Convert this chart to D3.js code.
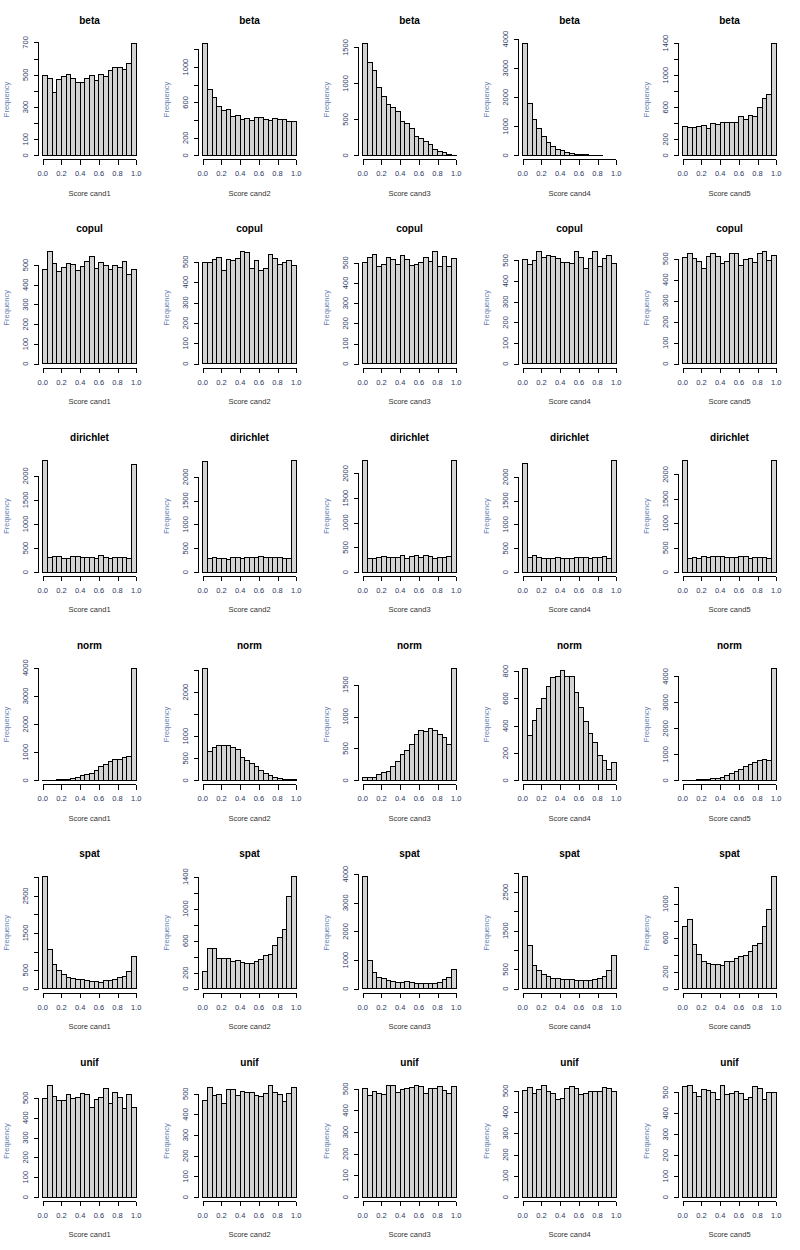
<!DOCTYPE html>
<html lang="en">
<head>
<meta charset="UTF-8">
<title>Score histograms</title>
<script src="https://d3js.org/d3.v7.min.js"></script>
<style>
  body { margin: 0; background: #fff; }
  svg { display: block; font-family: "Liberation Sans", Arial, sans-serif; }
</style>
</head>
<body>
<svg id="chart" width="800" height="1250"></svg>
<script>
// one row per generating method, one column per candidate
const methods = ["beta", "copul", "dirichlet", "norm", "spat", "unif"];
const candidates = ["cand1", "cand2", "cand3", "cand4", "cand5"];
const breaks = d3.range(21).map(i => i / 20);   // 20 bins of width 0.05
const xTicks = [0, 0.2, 0.4, 0.6, 0.8, 1];

// counts per bin
const betaCounts = [
  [493, 476, 389, 470, 489, 501, 476, 451, 451, 476, 495, 466, 501, 489, 526, 545, 545, 532, 569, 694],
  [1268, 743, 653, 551, 506, 521, 438, 449, 408, 419, 392, 426, 426, 408, 392, 419, 408, 408, 381, 381],
  [1556, 1291, 1180, 943, 817, 706, 664, 608, 469, 441, 372, 260, 232, 190, 149, 79, 51, 37, 9, 2],
  [3851, 1782, 1230, 920, 644, 437, 299, 207, 161, 103, 69, 34, 23, 15, 5, 3, 1, 0, 0, 0],
  [362, 346, 346, 362, 371, 333, 396, 383, 408, 408, 408, 408, 483, 446, 496, 483, 596, 708, 758, 1396]
];
const copulCounts = [
  [476, 567, 506, 465, 486, 506, 501, 470, 491, 516, 541, 481, 511, 496, 476, 496, 486, 516, 450, 476],
  [495, 495, 510, 520, 456, 510, 505, 515, 549, 544, 466, 505, 456, 466, 534, 515, 485, 495, 505, 480],
  [500, 525, 540, 480, 490, 525, 515, 490, 535, 515, 485, 490, 500, 525, 505, 554, 480, 530, 480, 520],
  [503, 479, 498, 542, 513, 523, 518, 508, 489, 489, 484, 542, 513, 460, 508, 542, 469, 508, 523, 484],
  [505, 524, 500, 486, 452, 510, 524, 510, 476, 486, 524, 524, 467, 495, 500, 481, 524, 533, 490, 514]
];
const dirichletCounts = [
  [2326, 299, 319, 319, 278, 278, 319, 319, 299, 299, 299, 278, 340, 299, 278, 299, 299, 299, 278, 2236],
  [2323, 281, 302, 281, 281, 260, 302, 302, 281, 302, 302, 302, 323, 302, 302, 302, 302, 281, 281, 2351],
  [2271, 271, 271, 292, 312, 292, 292, 292, 332, 271, 312, 332, 292, 332, 312, 271, 292, 292, 312, 2265],
  [2281, 302, 344, 302, 281, 281, 281, 302, 281, 281, 281, 302, 302, 302, 281, 302, 302, 323, 281, 2351],
  [2295, 274, 295, 274, 315, 295, 315, 315, 315, 295, 295, 295, 315, 315, 274, 295, 295, 295, 274, 2295]
];
const normCounts = [
  [2, 4, 6, 20, 25, 45, 83, 118, 166, 225, 260, 355, 497, 580, 675, 757, 757, 828, 852, 3976],
  [2536, 657, 747, 792, 792, 792, 747, 702, 521, 453, 392, 317, 234, 166, 113, 68, 45, 23, 23, 23],
  [47, 47, 47, 89, 130, 146, 219, 297, 407, 469, 563, 720, 782, 767, 814, 782, 720, 673, 563, 1753],
  [820, 332, 439, 527, 600, 688, 754, 761, 805, 761, 761, 644, 534, 432, 344, 278, 183, 146, 80, 132],
  [2, 3, 5, 25, 30, 45, 64, 77, 115, 192, 269, 346, 423, 538, 615, 692, 769, 808, 769, 4308]
];
const spatCounts = [
  [3013, 1049, 655, 484, 377, 296, 269, 242, 242, 215, 188, 188, 161, 215, 215, 242, 296, 323, 457, 861],
  [212, 500, 500, 375, 375, 375, 337, 350, 325, 312, 312, 337, 362, 412, 425, 537, 637, 737, 1150, 1400],
  [3907, 977, 558, 384, 349, 279, 244, 209, 209, 244, 209, 174, 174, 174, 174, 174, 209, 314, 384, 663],
  [2897, 1112, 595, 466, 362, 310, 259, 259, 233, 233, 233, 207, 207, 207, 207, 233, 259, 310, 466, 853],
  [728, 810, 516, 399, 317, 293, 282, 282, 270, 317, 317, 352, 376, 387, 434, 505, 528, 728, 927, 1315]
];
const unifCounts = [
  [498, 564, 508, 488, 488, 519, 498, 503, 524, 519, 453, 493, 503, 549, 473, 529, 503, 448, 519, 453],
  [469, 528, 494, 498, 455, 523, 523, 494, 513, 508, 508, 494, 489, 503, 542, 508, 498, 464, 503, 528],
  [503, 471, 489, 480, 475, 517, 517, 485, 498, 503, 508, 517, 512, 480, 503, 503, 512, 494, 480, 512],
  [503, 517, 489, 508, 527, 498, 489, 461, 465, 513, 522, 513, 484, 489, 498, 498, 498, 517, 513, 498],
  [530, 535, 502, 482, 516, 511, 502, 468, 535, 492, 497, 506, 497, 468, 478, 526, 521, 468, 502, 502]
];
const countsByMethod = [betaCounts, copulCounts, dirichletCounts, normCounts, spatCounts, unifCounts];

// y tick spacing of each panel (what R's pretty() chose)
const yStepByMethod = [
  [100, 200, 500, 1000, 200],
  [100, 100, 100, 100, 100],
  [500, 500, 500, 500, 500],
  [1000, 500, 500, 200, 1000],
  [500, 200, 1000, 500, 200],
  [100, 100, 100, 100, 100]
];

const svg = d3.select("#chart");
const cellW = 800 / 5, cellH = 1250 / 6;
const line = 9.5;  // height of one margin line
const m = { top: 4.1 * line, right: 2.1 * line, bottom: 5.1 * line, left: 4.1 * line };
const plotL = m.left, plotR = cellW - m.right, plotT = m.top, plotB = cellH - m.bottom;
const tickLen = 0.5 * line;
const axisFont = 7.5;

// text widths for R-like skipping of overlapping y labels
const ctx = document.createElement("canvas").getContext("2d");
ctx.font = axisFont + "px 'Liberation Sans', Arial, sans-serif";
const gap = ctx.measureText("m").width;

methods.forEach((method, row) => {
  candidates.forEach((cand, col) => {
    const counts = countsByMethod[row][col];
    const ymax = d3.max(counts);
    const step = yStepByMethod[row][col];

    const g = svg.append("g")
        .attr("transform", `translate(${col * cellW},${row * cellH})`);

    const x = d3.scaleLinear().domain([-0.04, 1.04]).range([plotL, plotR]);
    const y = d3.scaleLinear().domain([-0.04 * ymax, 1.04 * ymax]).range([plotB, plotT]);

    // bars
    g.append("g")
      .selectAll("rect")
      .data(counts.map((c, i) => ({ x0: breaks[i], x1: breaks[i + 1], c })).filter(d => d.c > 0))
      .join("rect")
        .attr("x", d => x(d.x0))
        .attr("width", d => x(d.x1) - x(d.x0))
        .attr("y", d => y(d.c))
        .attr("height", d => y(0) - y(d.c))
        .attr("fill", "#d3d3d3")
        .attr("stroke", "#000")
        .attr("stroke-width", 1)
        .attr("shape-rendering", "crispEdges");

    // x axis
    const xAxis = g.append("g")
        .attr("transform", `translate(0,${plotB})`)
        .call(d3.axisBottom(x).tickValues(xTicks).tickSize(tickLen).tickSizeOuter(0).tickFormat(""));
    xAxis.select(".domain").remove();
    xAxis.append("line")
        .attr("x1", x(0)).attr("x2", x(1))
        .attr("stroke", "#000");
    xAxis.selectAll("line").attr("shape-rendering", "crispEdges");
    xAxis.selectAll(".xlab")
      .data(xTicks)
      .join("text")
        .attr("x", d => x(d))
        .attr("y", 16.6)
        .attr("text-anchor", "middle")
        .attr("font-size", axisFont)
        .attr("fill", "#2b365f")
        .text(d => d3.format(".1f")(d));

    // y axis
    const yTicks = d3.range(0, 1.04 * ymax + 1e-9, step);
    const yAxis = g.append("g")
        .attr("transform", `translate(${plotL},0)`)
        .call(d3.axisLeft(y).tickValues(yTicks).tickSize(tickLen).tickSizeOuter(0).tickFormat(""));
    yAxis.select(".domain").remove();
    yAxis.append("line")
        .attr("y1", y(0)).attr("y2", y(yTicks[yTicks.length - 1]))
        .attr("stroke", "#000");
    yAxis.selectAll("line").attr("shape-rendering", "crispEdges");

    let lastTop = Infinity;
    yTicks.forEach(t => {
      const label = String(t);
      const w = ctx.measureText(label).width;
      const pos = y(t);
      if (pos + w / 2 + gap > lastTop) return;   // would overlap the previous label
      lastTop = pos - w / 2;
      yAxis.append("text")
          .attr("transform", `translate(-10.6,${pos}) rotate(-90)`)
          .attr("text-anchor", "middle")
          .attr("font-size", axisFont)
          .attr("fill", "#2b365f")
          .text(label);
    });

    // titles
    g.append("text")
        .attr("x", (plotL + plotR) / 2)
        .attr("y", 24)
        .attr("text-anchor", "middle")
        .attr("font-size", 10)
        .attr("font-weight", "bold")
        .attr("fill", "#000")
        .text(method);

    g.append("text")
        .attr("x", (plotL + plotR) / 2)
        .attr("y", plotB + 35.8)
        .attr("text-anchor", "middle")
        .attr("font-size", axisFont)
        .attr("fill", "#333")
        .text("Score " + cand);

    g.append("text")
        .attr("transform", `translate(9,${(plotT + plotB) / 2}) rotate(-90)`)
        .attr("text-anchor", "middle")
        .attr("font-size", axisFont)
        .attr("fill", "#6680b3")
        .text("Frequency");
  });
});
</script>
</body>
</html>
